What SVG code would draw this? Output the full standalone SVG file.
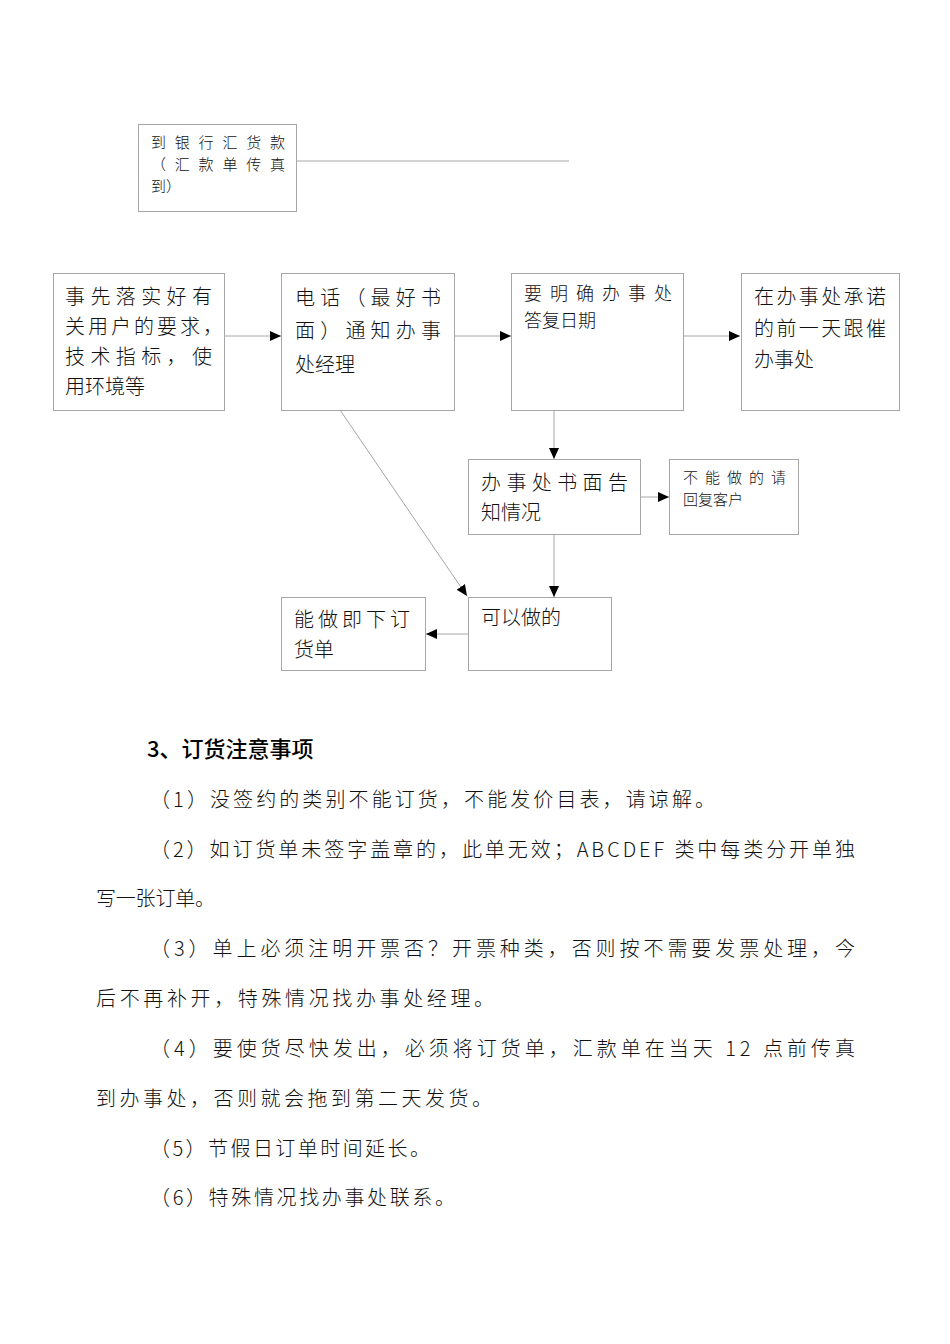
<svg xmlns="http://www.w3.org/2000/svg" width="950" height="1344" viewBox="0 0 950 1344">
<style>
.bx{fill:#fff;stroke:#a6a6a6;stroke-width:1}
.t{font-family:"Noto Sans CJK SC","Noto Sans",sans-serif;fill:#111;font-weight:300}
.t20{font-size:20px}
.t18{font-size:18px}
.t15{font-size:15px}
.cn{stroke:#a6a6a6;stroke-width:1;fill:none}
.p{font-family:"Noto Sans CJK SC","Noto Sans",sans-serif;font-size:20px;fill:#111;font-weight:300}
.h{font-family:"Noto Sans CJK SC","Liberation Sans",sans-serif;font-size:22px;font-weight:500;fill:#000}
</style>
<defs>
<marker id="ar" markerUnits="userSpaceOnUse" markerWidth="12" markerHeight="12" refX="11" refY="5" orient="auto">
<path d="M0,0 L11,5 L0,10 z" fill="#000"/>
</marker>
</defs>
<rect width="950" height="1344" fill="#fff"/>

<g id="connectors">
<line class="cn" x1="296" y1="161" x2="569" y2="161"/>
<line class="cn" x1="224" y1="336" x2="281" y2="336" marker-end="url(#ar)"/>
<line class="cn" x1="454" y1="336" x2="511" y2="336" marker-end="url(#ar)"/>
<line class="cn" x1="683" y1="336" x2="740" y2="336" marker-end="url(#ar)"/>
<line class="cn" x1="554" y1="410" x2="554" y2="459" marker-end="url(#ar)"/>
<line class="cn" x1="640" y1="497" x2="669" y2="497" marker-end="url(#ar)"/>
<line class="cn" x1="554" y1="534" x2="554" y2="597" marker-end="url(#ar)"/>
<line class="cn" x1="468" y1="634" x2="426" y2="634" marker-end="url(#ar)"/>
<line class="cn" x1="340" y1="410" x2="467" y2="596" marker-end="url(#ar)"/>
</g>

<g id="n-bank">
<rect class="bx" x="138.5" y="124.5" width="158" height="87"/>
<text class="t t15" x="151" y="148" textLength="134" lengthAdjust="spacing">到银行汇货款</text>
<text class="t t15" x="151" y="170" textLength="134" lengthAdjust="spacing">（汇款单传真</text>
<text class="t t15" x="151" y="192">到）</text>
</g>

<g id="n-req">
<rect class="bx" x="53.5" y="273.5" width="171" height="137"/>
<text class="t t20" x="65" y="304" textLength="147" lengthAdjust="spacing">事先落实好有</text>
<text class="t t20" x="65" y="334" textLength="158" lengthAdjust="spacing">关用户的要求，</text>
<text class="t t20" x="65" y="364" textLength="147" lengthAdjust="spacing">技术指标，使</text>
<text class="t t20" x="65" y="394">用环境等</text>
</g>

<g id="n-phone">
<rect class="bx" x="281.5" y="273.5" width="173" height="137"/>
<text class="t t20" x="295" y="305" textLength="146" lengthAdjust="spacing">电话（最好书</text>
<text class="t t20" x="295" y="338" textLength="146" lengthAdjust="spacing">面）通知办事</text>
<text class="t t20" x="295" y="372">处经理</text>
</g>

<g id="n-date">
<rect class="bx" x="511.5" y="273.5" width="172" height="137"/>
<text class="t t18" x="524" y="300" textLength="148" lengthAdjust="spacing">要明确办事处</text>
<text class="t t18" x="524" y="327">答复日期</text>
</g>

<g id="n-follow">
<rect class="bx" x="741.5" y="273.5" width="158" height="137"/>
<text class="t t20" x="754" y="304" textLength="132" lengthAdjust="spacing">在办事处承诺</text>
<text class="t t20" x="754" y="336" textLength="132" lengthAdjust="spacing">的前一天跟催</text>
<text class="t t20" x="754" y="367">办事处</text>
</g>

<g id="n-notice">
<rect class="bx" x="468.5" y="459.5" width="172" height="75"/>
<text class="t t20" x="481" y="490" textLength="147" lengthAdjust="spacing">办事处书面告</text>
<text class="t t20" x="481" y="520">知情况</text>
</g>

<g id="n-reply">
<rect class="bx" x="669.5" y="459.5" width="129" height="75"/>
<text class="t t15" x="683" y="483" textLength="103" lengthAdjust="spacing">不能做的请</text>
<text class="t t15" x="683" y="505">回复客户</text>
</g>

<g id="n-can">
<rect class="bx" x="468.5" y="597.5" width="143" height="73"/>
<text class="t t20" x="481" y="625">可以做的</text>
</g>

<g id="n-order">
<rect class="bx" x="281.5" y="597.5" width="144" height="73"/>
<text class="t t20" x="294" y="627" textLength="116" lengthAdjust="spacing">能做即下订</text>
<text class="t t20" x="294" y="657">货单</text>
</g>

<g id="notes">
<text class="h" x="147" y="757">3、订货注意事项</text>
<text class="p" x="150" y="807" textLength="565" lengthAdjust="spacing">（1）没签约的类别不能订货，不能发价目表，请谅解。</text>
<text class="p" x="150" y="857" textLength="705" lengthAdjust="spacing">（2）如订货单未签字盖章的，此单无效；ABCDEF 类中每类分开单独</text>
<text class="p" x="96" y="906" textLength="119" lengthAdjust="spacing">写一张订单。</text>
<text class="p" x="150" y="956" textLength="705" lengthAdjust="spacing">（3）单上必须注明开票否？开票种类，否则按不需要发票处理，今</text>
<text class="p" x="96" y="1006" textLength="398" lengthAdjust="spacing">后不再补开，特殊情况找办事处经理。</text>
<text class="p" x="150" y="1056" textLength="705" lengthAdjust="spacing">（4）要使货尽快发出，必须将订货单，汇款单在当天 12 点前传真</text>
<text class="p" x="96" y="1106" textLength="396" lengthAdjust="spacing">到办事处，否则就会拖到第二天发货。</text>
<text class="p" x="150" y="1156" textLength="280" lengthAdjust="spacing">（5）节假日订单时间延长。</text>
<text class="p" x="150" y="1205" textLength="305" lengthAdjust="spacing">（6）特殊情况找办事处联系。</text>
</g>
</svg>
